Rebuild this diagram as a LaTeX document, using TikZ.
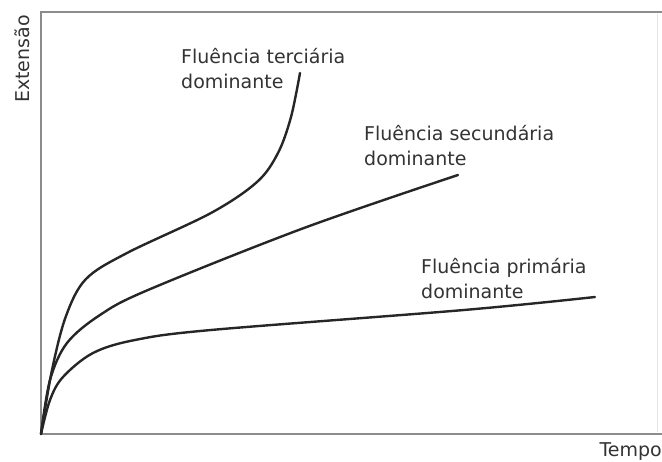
\documentclass[tikz,border=0pt]{standalone}
\usepackage{fontspec}
\setmainfont{DejaVu Sans}
\begin{document}
\begin{tikzpicture}[x=1pt,y=-1pt,
  curve/.style={line width=2.4pt,color=black!85,line cap=round,line join=round},
  frame/.style={line width=1.4pt,color=black!45},
  txt/.style={font=\fontsize{19}{25}\selectfont,text=black!80,inner sep=0pt},
  lbl/.style={txt,align=left,anchor=north west}]
\useasboundingbox (0,0) rectangle (662,462);
\coordinate (O) at (41,434);
\coordinate (TL) at (41,12);
\coordinate (TR) at (662,12);
\coordinate (BR) at (662,434);
\draw[frame] (TR) -- (TL) -- (O) -- (BR);
\draw[black!10,line width=0.6pt] (657,14) -- (657,432);
% tertiary
\draw[curve] plot[smooth,tension=0.55] coordinates {(41,434) (52,370) (66,316) (86,279) (127,253) (211,213) (257,182) (278,153) (291,117) (300,73)};
% secondary
\draw[curve] plot[smooth,tension=0.55] coordinates {(41,434) (50,380) (67,343) (100,315) (148,290) (304,228) (458,175)};
% primary
\draw[curve] plot[smooth,tension=0.55] coordinates {(41,434) (50,400) (63,377) (93,353) (135,340) (211,330) (464,310) (595,297)};
\node[lbl] (t) at (181,48) {Fluência terciária\\dominante};
\node[lbl] (s) at (364,125) {Fluência secundária\\dominante};
\node[lbl] (p) at (421,258) {Fluência primária\\dominante};
\node[txt,rotate=90] (y) at (22,59) {Extensão};
\node[txt,anchor=east] (x) at (662,452) {Tempo};
\end{tikzpicture}
\end{document}
